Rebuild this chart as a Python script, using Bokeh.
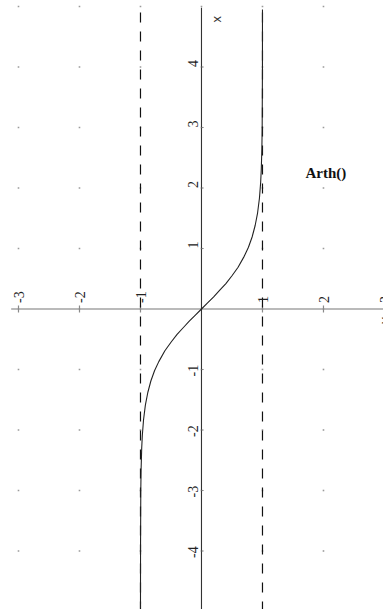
import math

from bokeh.core.properties import value
from bokeh.embed import file_html
from bokeh.models import ColumnDataSource, Range1d
from bokeh.plotting import figure
from bokeh.resources import INLINE

# Sampled points of the Arth() curve
curve_x = [-0.9999, -0.9993, -0.995, -0.99, -0.98, -0.97, -0.95, -0.92, -0.88,
           -0.83, -0.77, -0.7, -0.6, -0.5, -0.4, -0.3, -0.2, -0.1, 0.0,
           0.1, 0.2, 0.3, 0.4, 0.5, 0.6, 0.7, 0.77, 0.83, 0.88, 0.92, 0.95,
           0.97, 0.98, 0.99, 0.995, 0.9993, 0.9999]
curve_y = [-4.95, -3.98, -2.99, -2.65, -2.30, -2.09, -1.83, -1.59, -1.38,
           -1.19, -1.02, -0.87, -0.69, -0.55, -0.42, -0.31, -0.20, -0.10, 0.0,
           0.10, 0.20, 0.31, 0.42, 0.55, 0.69, 0.87, 1.02, 1.19, 1.38, 1.59, 1.83,
           2.09, 2.30, 2.65, 2.99, 3.98, 4.95]

# Vertical asymptotes
asymptotes = [-1, 1]

# Axis ticks and their labels
x_ticks = [-3, -2, -1, 1, 2, 3]
x_tick_labels = ["-3", "-2", "-1", "1", "2", "3"]
y_ticks = [-4, -3, -2, -1, 1, 2, 3, 4]
y_tick_labels = ["-4", "-3", "-2", "-1", "1", "2", "3", "4"]

# Dotted grid points
grid_x = [-3, -2, -1, 0, 1, 2, 3]
grid_y = [-5, -4, -3, -2, -1, 0, 1, 2, 3, 4, 5]

# Extents of the drawn axes
x_axis_extent = [-3.12, 3.3]
y_axis_extent = [-5.0, 4.98]

curve_name = "Arth()"

p = figure(width=383, height=609,
           x_range=Range1d(-3.295, 2.984), y_range=Range1d(-4.967, 5.099),
           output_backend="svg", toolbar_location=None,
           x_axis_type=None, y_axis_type=None,
           min_border=0, outline_line_color=None,
           background_fill_color="white", border_fill_color="white")
p.grid.visible = False

# grid dots
gx = [x for x in grid_x for _ in grid_y]
gy = [y for _ in grid_x for y in grid_y]
p.scatter(gx, gy, marker="square", size=1.6, fill_color="#9a9a9a",
          line_color=None)

# axes
p.segment(x0=[x_axis_extent[0]], y0=[0], x1=[x_axis_extent[1]], y1=[0],
          line_color="#a3a3a3", line_width=1.5)
p.segment(x0=[0], y0=[y_axis_extent[0]], x1=[0], y1=[y_axis_extent[1]],
          line_color="#333333", line_width=1.1)

# tick marks
p.scatter(x_ticks, [0] * len(x_ticks), marker="dash", angle=math.pi / 2,
          size=7, line_color="#8a8a8a", line_width=1.2)
p.segment(x0=[0] * len(y_ticks), y0=y_ticks, x1=[0.035] * len(y_ticks),
          y1=y_ticks, line_color="#888888", line_width=1.2)

# asymptotes
for a in asymptotes:
    p.segment(x0=[a], y0=[y_axis_extent[0]], x1=[a], y1=[y_axis_extent[1]],
              line_color="#111111", line_width=1.2, line_dash="10 9")

# the curve
p.line(curve_x, curve_y, line_color="#222222", line_width=1.1)

# tick labels, rotated to read upwards
label_font = value("Liberation Serif")
xl = ColumnDataSource(dict(x=x_ticks, y=[0] * len(x_ticks), t=x_tick_labels))
p.text(x="x", y="y", text="t", source=xl, angle=math.pi / 2,
       text_align="left", text_baseline="middle", x_offset=1, y_offset=-6,
       text_font=label_font, text_font_size="14px", text_color="#222222")

yl = ColumnDataSource(dict(x=[0] * len(y_ticks), y=y_ticks, t=y_tick_labels,
                           off=[7 if v < 0 else 0 for v in y_ticks]))
p.text(x="x", y="y", text="t", source=yl, angle=math.pi / 2,
       text_align="left", text_baseline="alphabetic", x_offset=-8,
       y_offset="off",
       text_font=label_font, text_font_size="14px", text_color="#222222")

# axis names
p.text(x=[0.254], y=[4.79], text=["x"], angle=math.pi / 2,
       text_align="center", text_baseline="middle",
       text_font=value("Liberation Sans"), text_font_size="13px",
       text_color="#333333")
p.text(x=[3.0], y=[-0.19], text=["y"], angle=math.pi / 2,
       text_align="center", text_baseline="middle",
       text_font=value("Liberation Sans"), text_font_size="13px",
       text_color="#333333")

# curve name
p.text(x=[1.705], y=[2.256], text=[curve_name],
       text_align="left", text_baseline="middle",
       text_font=value("Liberation Serif"), text_font_style="bold",
       text_font_size="15px", text_color="#111111")

open("out.html", "w").write(file_html(p, INLINE))
